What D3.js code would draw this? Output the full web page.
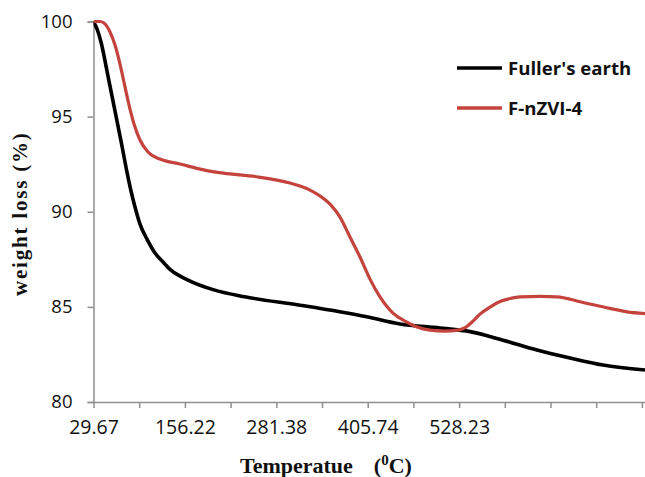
<!DOCTYPE html>
<html>
<head>
<meta charset="utf-8">
<script src="https://cdn.jsdelivr.net/npm/d3@7/dist/d3.min.js"></script>
<style>
  html, body { margin: 0; padding: 0; background: #fff; }
  svg { display: block; }
</style>
</head>
<body>
<svg id="chart" width="645" height="477"></svg>
<script>
// TGA curves: temperature (°C) vs remaining weight (%)
const fullersTemp = [29.67, 34.52, 40.05, 49.75, 59.44, 69.13, 76.05, 81.59, 87.13, 94.05, 103.74, 114.82, 125.9, 136.97, 160.47, 197.03, 238.11, 313.63, 404.38, 449.03, 502.63, 542.84, 587.06, 632.62, 676.85, 721.07, 777.35];
const fullersWeight = [100.0, 99.61, 98.92, 97.13, 95.29, 93.45, 92.08, 91.09, 90.25, 89.35, 88.56, 87.83, 87.36, 86.93, 86.41, 85.88, 85.53, 85.09, 84.48, 84.1, 83.89, 83.7, 83.25, 82.73, 82.31, 81.94, 81.68];

const nzviTemp = [29.67, 38.67, 44.21, 52.52, 59.44, 66.36, 73.29, 80.21, 87.13, 94.05, 105.13, 121.74, 149.44, 183.33, 208.8, 254.54, 300.02, 313.63, 327.23, 340.84, 354.44, 368.05, 381.65, 395.26, 408.82, 422.22, 439.64, 455.73, 471.81, 489.23, 509.33, 526.76, 537.46, 546.85, 556.24, 569.64, 583.04, 596.44, 609.84, 636.65, 659.43, 690.26, 730.45, 753.23, 777.35];
const nzviWeight = [100.0, 100.0, 99.92, 99.45, 98.76, 97.76, 96.56, 95.4, 94.45, 93.77, 93.14, 92.77, 92.51, 92.19, 92.03, 91.84, 91.51, 91.35, 91.14, 90.83, 90.4, 89.72, 88.67, 87.62, 86.46, 85.52, 84.67, 84.25, 83.94, 83.78, 83.73, 83.78, 83.94, 84.25, 84.62, 84.99, 85.28, 85.44, 85.53, 85.55, 85.53, 85.27, 84.92, 84.74, 84.65];

// Temperatures printed under the axis, and the weight ticks
const xLabelTemps = [29.67, 156.22, 281.38, 405.74, 528.23];
const yTicks = [80, 85, 90, 95, 100];

const seriesNames = ["Fuller's earth", "F-nZVI-4"];
const seriesColors = ["#000000", "#c4433c"];

const plotLeft = 93.5, plotRight = 645, plotTop = 21.5, plotBottom = 402;
const labelStep = 91.4;            // px between printed temperatures
const tickCount = 13;              // minor tick every half label step

const svg = d3.select("#chart");

// Category-like temperature axis: evenly spaced printed values
const x = d3.scaleLinear()
  .domain(xLabelTemps)
  .range(xLabelTemps.map((_, i) => plotLeft + i * labelStep));

const y = d3.scaleLinear().domain([80, 100]).range([plotBottom, plotTop]);

const axisColor = "#8f8f8f";
const tickFont = "'Open Sans', 'DejaVu Sans', sans-serif";

// y axis
const yAxis = svg.append("g")
  .attr("transform", `translate(${plotLeft},0)`)
  .call(d3.axisLeft(y).tickValues(yTicks).tickSize(6).tickPadding(15).tickFormat(d3.format("d")));
yAxis.select(".domain").attr("stroke", axisColor).attr("stroke-width", 1.5);
yAxis.selectAll(".tick line").attr("stroke", axisColor).attr("stroke-width", 1.5);
yAxis.selectAll(".tick text")
  .attr("fill", "#111").style("font-family", tickFont).style("font-size", "18.5px");

// x axis: ticks every half step, text on every other one
const xTickPos = d3.range(tickCount).map(k => plotLeft + k * labelStep / 2);
const xTickVals = xTickPos.map(p => x.invert(p));
const xAxis = svg.append("g")
  .attr("transform", `translate(0,${plotBottom})`)
  .call(d3.axisBottom(x).tickValues(xTickVals).tickSize(6).tickPadding(12)
    .tickFormat((d, i) => i % 2 === 0 && xLabelTemps[i / 2] !== undefined ? d3.format(".2f")(xLabelTemps[i / 2]) : ""));
xAxis.select(".domain")
  .attr("d", `M${plotLeft},0.5H${plotRight}`)
  .attr("stroke", axisColor).attr("stroke-width", 1.5);
xAxis.selectAll(".tick line").attr("stroke", axisColor).attr("stroke-width", 1.5);
xAxis.selectAll(".tick text")
  .attr("fill", "#111").style("font-family", tickFont).style("font-size", "19.5px");

// curves
svg.append("clipPath").attr("id", "plotClip")
  .append("rect").attr("x", plotLeft).attr("y", 0).attr("width", plotRight - plotLeft).attr("height", plotBottom);

const line = d3.line()
  .x(d => x(d[0]))
  .y(d => y(d[1]))
  .curve(d3.curveMonotoneX);

const series = [
  d3.zip(fullersTemp, fullersWeight),
  d3.zip(nzviTemp, nzviWeight)
];
const widths = [3.6, 3.2];

series.forEach((s, i) => {
  svg.append("path")
    .datum(s)
    .attr("clip-path", "url(#plotClip)")
    .attr("fill", "none")
    .attr("stroke", seriesColors[i])
    .attr("stroke-width", widths[i])
    .attr("stroke-linejoin", "round")
    .attr("d", line);
});

// legend
const legendY = [68, 108];
seriesNames.forEach((name, i) => {
  const g = svg.append("g");
  g.append("line")
    .attr("x1", 457).attr("x2", 502)
    .attr("y1", legendY[i]).attr("y2", legendY[i])
    .attr("stroke", seriesColors[i]).attr("stroke-width", 3.6);
  g.append("text")
    .attr("x", 508).attr("y", legendY[i])
    .attr("dy", "0.36em")
    .style("font-family", tickFont)
    .style("font-size", "18.6px")
    .style("font-weight", "bold")
    .attr("fill", "#111")
    .text(name);
});

// axis titles
const titleFont = "'Liberation Serif', 'Times New Roman', serif";
const xt = svg.append("text")
  .attr("x", 240).attr("y", 473)
  .style("font-family", titleFont).style("font-size", "22px").style("font-weight", "bold")
  .attr("fill", "#111");
xt.append("tspan").text("Temperatue");
xt.append("tspan").attr("dx", 21).text("(");
xt.append("tspan").attr("dy", -8).style("font-size", "15px").text("0");
xt.append("tspan").attr("dy", 8).text("C)");

svg.append("text")
  .attr("transform", `translate(27,${(plotTop + plotBottom) / 2 + 2}) rotate(-90)`)
  .attr("text-anchor", "middle")
  .style("font-family", titleFont).style("font-size", "21px").style("font-weight", "bold")
  .style("letter-spacing", "1.8px")
  .attr("fill", "#111")
  .text("weight loss (%)");
</script>
</body>
</html>
